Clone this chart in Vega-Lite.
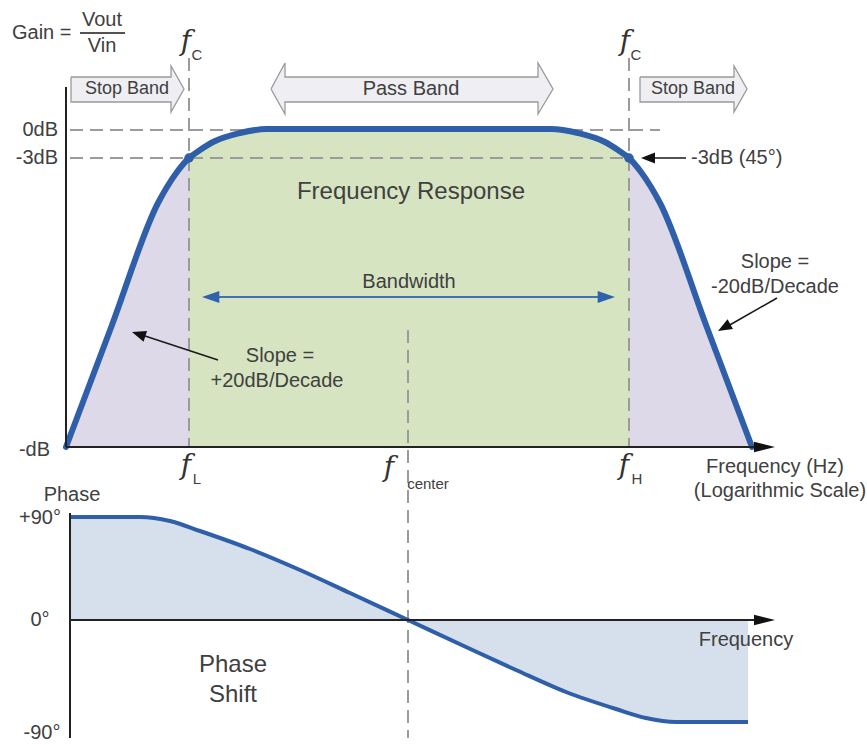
{
  "$schema": "https://vega.github.io/schema/vega-lite/v6.json",
  "width": 867,
  "height": 745,
  "padding": 0,
  "autosize": {"type": "fit", "contains": "padding"},
  "background": "white",
  "config": {"view": {"stroke": null}},
  "datasets": {
    "gain": [
      {"x": 66, "y": 447, "region": "left"},
      {"x": 112, "y": 325, "region": "left"},
      {"x": 158, "y": 203, "region": "left"},
      {"x": 167, "y": 187, "region": "left"},
      {"x": 177, "y": 172, "region": "left"},
      {"x": 189, "y": 158, "region": "left"},
      {"x": 189, "y": 158, "region": "pass"},
      {"x": 200, "y": 150, "region": "pass"},
      {"x": 213, "y": 142, "region": "pass"},
      {"x": 240, "y": 133, "region": "pass"},
      {"x": 267, "y": 129, "region": "pass"},
      {"x": 300, "y": 129, "region": "pass"},
      {"x": 518, "y": 129, "region": "pass"},
      {"x": 551, "y": 129, "region": "pass"},
      {"x": 578, "y": 133, "region": "pass"},
      {"x": 605, "y": 142, "region": "pass"},
      {"x": 618, "y": 150, "region": "pass"},
      {"x": 629, "y": 158, "region": "pass"},
      {"x": 629, "y": 158, "region": "right"},
      {"x": 641, "y": 172, "region": "right"},
      {"x": 651, "y": 187, "region": "right"},
      {"x": 660, "y": 203, "region": "right"},
      {"x": 706, "y": 325, "region": "right"},
      {"x": 752, "y": 447, "region": "right"}
    ],
    "phase": [
      {"x": 70, "y": 517}, {"x": 140, "y": 517}, {"x": 170, "y": 521},
      {"x": 200, "y": 531}, {"x": 250, "y": 549}, {"x": 300, "y": 570},
      {"x": 350, "y": 593}, {"x": 408, "y": 620}, {"x": 466, "y": 647},
      {"x": 516, "y": 670}, {"x": 566, "y": 692}, {"x": 616, "y": 709},
      {"x": 646, "y": 718}, {"x": 676, "y": 722}, {"x": 748, "y": 722}
    ],
    "dash": [
      {"x": 189, "y": 58, "x2": 189, "y2": 447},
      {"x": 629, "y": 58, "x2": 629, "y2": 447},
      {"x": 70, "y": 130, "x2": 660, "y2": 130},
      {"x": 70, "y": 158, "x2": 629, "y2": 158},
      {"x": 408, "y": 330, "x2": 408, "y2": 738}
    ],
    "axes": [
      {"x": 66, "y": 87, "x2": 66, "y2": 447},
      {"x": 66, "y": 447, "x2": 758, "y2": 447},
      {"x": 70, "y": 513, "x2": 70, "y2": 738},
      {"x": 70, "y": 620, "x2": 760, "y2": 620}
    ],
    "pointers": [
      {"x": 686, "y": 158, "x2": 650, "y2": 158},
      {"x": 218, "y": 360, "x2": 142, "y2": 335},
      {"x": 777, "y": 298, "x2": 728, "y2": 326},
      {"x": 80, "y": 33, "x2": 125, "y2": 33}
    ],
    "bw": [{"x": 215, "y": 297, "x2": 602, "y2": 297}],
    "bwheads": [
      {"x": 202, "y": 297, "heading": 270},
      {"x": 615, "y": 297, "heading": 90}
    ],
    "heads": [
      {"x": 641, "y": 158, "heading": 270},
      {"x": 132, "y": 332, "heading": 288},
      {"x": 718, "y": 331, "heading": 241}
    ],
    "axisheads": [
      {"x": 775, "y": 447, "heading": 90},
      {"x": 775, "y": 620, "heading": 90}
    ],
    "dots": [{"x": 189, "y": 158}, {"x": 629, "y": 158}],
    "bands": [
      {"name": "stopL", "i": 0, "x": 71, "y": 77},
      {"name": "stopL", "i": 1, "x": 171, "y": 77},
      {"name": "stopL", "i": 2, "x": 171, "y": 66},
      {"name": "stopL", "i": 3, "x": 184, "y": 89},
      {"name": "stopL", "i": 4, "x": 171, "y": 112},
      {"name": "stopL", "i": 5, "x": 171, "y": 102},
      {"name": "stopL", "i": 6, "x": 71, "y": 102},
      {"name": "stopL", "i": 7, "x": 71, "y": 77},
      {"name": "pass", "i": 0, "x": 271, "y": 89},
      {"name": "pass", "i": 1, "x": 285, "y": 63},
      {"name": "pass", "i": 2, "x": 285, "y": 77},
      {"name": "pass", "i": 3, "x": 538, "y": 77},
      {"name": "pass", "i": 4, "x": 538, "y": 63},
      {"name": "pass", "i": 5, "x": 553, "y": 89},
      {"name": "pass", "i": 6, "x": 538, "y": 114},
      {"name": "pass", "i": 7, "x": 538, "y": 102},
      {"name": "pass", "i": 8, "x": 285, "y": 102},
      {"name": "pass", "i": 9, "x": 285, "y": 114},
      {"name": "pass", "i": 10, "x": 271, "y": 89},
      {"name": "stopR", "i": 0, "x": 640, "y": 77},
      {"name": "stopR", "i": 1, "x": 734, "y": 77},
      {"name": "stopR", "i": 2, "x": 734, "y": 66},
      {"name": "stopR", "i": 3, "x": 747, "y": 89},
      {"name": "stopR", "i": 4, "x": 734, "y": 112},
      {"name": "stopR", "i": 5, "x": 734, "y": 102},
      {"name": "stopR", "i": 6, "x": 640, "y": 102},
      {"name": "stopR", "i": 7, "x": 640, "y": 77}
    ],
    "t20c": [
      {"x": 102, "y": 20, "t": "Vout"},
      {"x": 102, "y": 46, "t": "Vin"},
      {"x": 411, "y": 89, "t": "Pass Band"},
      {"x": 409, "y": 282, "t": "Bandwidth"},
      {"x": 280, "y": 356, "t": "Slope ="},
      {"x": 277, "y": 381, "t": "+20dB/Decade"},
      {"x": 775, "y": 262, "t": "Slope ="},
      {"x": 775, "y": 287, "t": "-20dB/Decade"},
      {"x": 775, "y": 467, "t": "Frequency (Hz)"},
      {"x": 780, "y": 491, "t": "(Logarithmic Scale)"},
      {"x": 72, "y": 495, "t": "Phase"},
      {"x": 40, "y": 518, "t": "+90°"},
      {"x": 40, "y": 620, "t": "0°"},
      {"x": 42, "y": 733, "t": "-90°"},
      {"x": 746, "y": 640, "t": "Frequency"}
    ],
    "t20r": [
      {"x": 58, "y": 130, "t": "0dB"},
      {"x": 58, "y": 158, "t": "-3dB"},
      {"x": 50, "y": 450, "t": "-dB"}
    ],
    "t20l": [
      {"x": 12, "y": 33, "t": "Gain ="},
      {"x": 691, "y": 158, "t": "-3dB (45°)"}
    ],
    "t18c": [
      {"x": 127, "y": 89, "t": "Stop Band"},
      {"x": 693, "y": 89, "t": "Stop Band"}
    ],
    "t24c": [
      {"x": 411, "y": 192, "t": "Frequency Response"},
      {"x": 233, "y": 665, "t": "Phase"},
      {"x": 233, "y": 695, "t": "Shift"}
    ],
    "fglyph": [
      {"x": 186, "y": 42, "t": "f"},
      {"x": 625, "y": 42, "t": "f"},
      {"x": 186, "y": 466, "t": "f"},
      {"x": 389, "y": 468, "t": "f"},
      {"x": 624, "y": 466, "t": "f"}
    ],
    "subs": [
      {"x": 197, "y": 55, "t": "C"},
      {"x": 636, "y": 55, "t": "C"},
      {"x": 197, "y": 479, "t": "L"},
      {"x": 428, "y": 484, "t": "center"},
      {"x": 637, "y": 479, "t": "H"}
    ]
  },
  "encoding": {
    "x": {"field": "x", "type": "quantitative", "scale": {"domain": [0, 867], "nice": false, "zero": false}, "axis": null},
    "y": {"field": "y", "type": "quantitative", "scale": {"domain": [0, 745], "nice": false, "zero": false, "reverse": true}, "axis": null}
  },
  "layer": [
    {
      "data": {"name": "gain"},
      "mark": {"type": "area", "interpolate": "monotone"},
      "encoding": {
        "y2": {"datum": 447},
        "color": {"field": "region", "type": "nominal", "scale": {"domain": ["left", "pass", "right"], "range": ["#ddd9e9", "#d7e4c2", "#ddd9e9"]}, "legend": null}
      }
    },
    {
      "data": {"name": "phase"},
      "mark": {"type": "area", "interpolate": "monotone", "color": "#d6e0ed"},
      "encoding": {"y2": {"datum": 620}}
    },
    {
      "data": {"name": "dash"},
      "mark": {"type": "rule", "color": "#9b9b9b", "strokeWidth": 2, "strokeDash": [13, 7]},
      "encoding": {"x2": {"field": "x2"}, "y2": {"field": "y2"}}
    },
    {
      "data": {"name": "gain"},
      "mark": {"type": "line", "interpolate": "monotone", "color": "#2f5fa9", "strokeWidth": 6, "strokeCap": "round", "strokeJoin": "round"},
      "encoding": {}
    },
    {
      "data": {"name": "phase"},
      "mark": {"type": "line", "interpolate": "monotone", "color": "#2f5fa9", "strokeWidth": 4},
      "encoding": {}
    },
    {
      "data": {"name": "axes"},
      "mark": {"type": "rule", "color": "#222222", "strokeWidth": 2},
      "encoding": {"x2": {"field": "x2"}, "y2": {"field": "y2"}}
    },
    {
      "data": {"name": "pointers"},
      "mark": {"type": "rule", "color": "#1a1a1a", "strokeWidth": 1.6},
      "encoding": {"x2": {"field": "x2"}, "y2": {"field": "y2"}}
    },
    {
      "data": {"name": "bw"},
      "mark": {"type": "rule", "color": "#3f72b5", "strokeWidth": 2},
      "encoding": {"x2": {"field": "x2"}, "y2": {"field": "y2"}}
    },
    {
      "data": {"name": "bwheads"},
      "mark": {"type": "point", "shape": "M0,0L-0.7,2L0.7,2Z", "filled": true, "color": "#2f62ad", "size": 300, "opacity": 1},
      "encoding": {"angle": {"field": "heading", "type": "quantitative", "scale": null}}
    },
    {
      "data": {"name": "heads"},
      "mark": {"type": "point", "shape": "M0,0L-0.8,2L0.8,2Z", "filled": true, "color": "#111111", "size": 196, "opacity": 1},
      "encoding": {"angle": {"field": "heading", "type": "quantitative", "scale": null}}
    },
    {
      "data": {"name": "axisheads"},
      "mark": {"type": "point", "shape": "M0,0L-0.5,2L0.5,2Z", "filled": true, "color": "#111111", "size": 441, "opacity": 1},
      "encoding": {"angle": {"field": "heading", "type": "quantitative", "scale": null}}
    },
    {
      "data": {"name": "dots"},
      "mark": {"type": "point", "shape": "circle", "filled": true, "color": "#2f5fa9", "size": 90, "opacity": 1}
    },
    {
      "data": {"name": "bands"},
      "mark": {"type": "line", "interpolate": "linear", "fill": "#eeeef3", "stroke": "#9a9a9a", "strokeWidth": 1.3, "opacity": 1},
      "encoding": {
        "detail": {"field": "name", "type": "nominal"},
        "order": {"field": "i", "type": "quantitative"}
      }
    },
    {
      "data": {"name": "t20c"},
      "mark": {"type": "text", "font": "Liberation Sans", "fontSize": 20, "color": "#404040", "align": "center", "baseline": "middle"},
      "encoding": {"text": {"field": "t"}}
    },
    {
      "data": {"name": "t20r"},
      "mark": {"type": "text", "font": "Liberation Sans", "fontSize": 20, "color": "#404040", "align": "right", "baseline": "middle"},
      "encoding": {"text": {"field": "t"}}
    },
    {
      "data": {"name": "t20l"},
      "mark": {"type": "text", "font": "Liberation Sans", "fontSize": 20, "color": "#404040", "align": "left", "baseline": "middle"},
      "encoding": {"text": {"field": "t"}}
    },
    {
      "data": {"name": "t18c"},
      "mark": {"type": "text", "font": "Liberation Sans", "fontSize": 18, "color": "#404040", "align": "center", "baseline": "middle"},
      "encoding": {"text": {"field": "t"}}
    },
    {
      "data": {"name": "t24c"},
      "mark": {"type": "text", "font": "Liberation Sans", "fontSize": 24, "color": "#404040", "align": "center", "baseline": "middle"},
      "encoding": {"text": {"field": "t"}}
    },
    {
      "data": {"name": "fglyph"},
      "mark": {"type": "text", "font": "DejaVu Serif", "fontStyle": "italic", "fontSize": 28, "color": "#333333", "align": "center", "baseline": "middle"},
      "encoding": {"text": {"field": "t"}}
    },
    {
      "data": {"name": "subs"},
      "mark": {"type": "text", "font": "Liberation Sans", "fontSize": 15, "color": "#404040", "align": "center", "baseline": "middle"},
      "encoding": {"text": {"field": "t"}}
    }
  ]
}
